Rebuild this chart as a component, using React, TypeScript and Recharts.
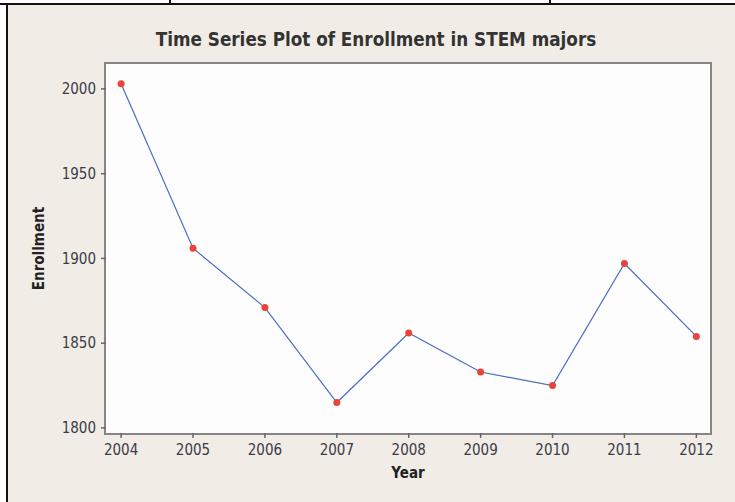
import React from 'react';
import { LineChart, Line, XAxis, YAxis } from 'recharts';

const years = [2004, 2005, 2006, 2007, 2008, 2009, 2010, 2011, 2012];
const enrollment = [2003, 1906, 1871, 1815, 1856, 1833, 1825, 1897, 1854];
const yTicks = [1800, 1850, 1900, 1950, 2000];

const data = years.map((y, i) => ({ year: y, value: enrollment[i] }));

const W = 735;
const H = 502;
// plot area in page pixels
const PL = 106, PR = 710, PT = 64, PB = 433;

const font = '"DejaVu Sans Condensed", "DejaVu Sans", sans-serif';
const tickStyle = { fontSize: 15, fill: '#3b3b48', fontFamily: font };

const YLabel = ({ viewBox }: any) => {
  const cx = 39;
  const cy = viewBox.y + viewBox.height / 2;
  return (
    <text x={cx} y={cy} transform={`rotate(-90, ${cx}, ${cy})`} textAnchor="middle" dominantBaseline="central"
      fontFamily={font} fontWeight="bold" fontSize={15} fill="#222">Enrollment</text>
  );
};

const XLabel = ({ viewBox }: any) => {
  const cx = viewBox.x + viewBox.width / 2;
  return (
    <text x={cx} y={478} textAnchor="middle" fontFamily={font} fontWeight="bold" fontSize={15} fill="#222">Year</text>
  );
};

export default function App() {
  return (
    <div style={{ position: 'absolute', left: 0, top: 0, width: W, height: H, background: '#fff', overflow: 'hidden' }}>
      {/* beige frame */}
      <div style={{ position: 'absolute', left: 8, top: 5, right: 0, bottom: 0, background: '#f1ede6' }} />
      <div style={{ position: 'absolute', left: 0, top: 3, width: W, height: 2, background: '#111' }} />
      <div style={{ position: 'absolute', left: 6, top: 3, width: 2, height: H, background: '#111' }} />
      <div style={{ position: 'absolute', left: 169, top: 0, width: 2, height: 4, background: '#111' }} />
      <div style={{ position: 'absolute', left: 549, top: 0, width: 2, height: 4, background: '#111' }} />
      {/* title */}
      <div style={{ position: 'absolute', left: 0, top: 29, width: 752, textAlign: 'center', fontFamily: font, fontWeight: 'bold', fontSize: 18.7, color: '#333' }}>
        Time Series Plot of Enrollment in STEM majors
      </div>
      {/* plot frame */}
      <div style={{ position: 'absolute', left: PL - 2, top: PT - 2, width: PR - PL + 4, height: PB - PT + 4, boxSizing: 'border-box', border: '2px solid #858585', background: '#fdfdfd' }} />
      <div style={{ position: 'absolute', left: 0, top: 0 }}>
        <LineChart width={W} height={H} data={data} margin={{ top: PT, right: W - PR, bottom: 0, left: 0 }}>
          <XAxis dataKey="year" type="number" domain={[2004 - 0.21, 2012 + 0.19]} ticks={years} allowDataOverflow
            axisLine={false} tickSize={5} tickMargin={6} tickLine={{ stroke: '#666', strokeWidth: 1.5 }} tick={tickStyle}
            height={H - PB} label={<XLabel />} />
          <YAxis type="number" domain={[1797, 2014.7]} ticks={yTicks} allowDataOverflow
            axisLine={false} tickSize={5} tickMargin={5} tickLine={{ stroke: '#666', strokeWidth: 1.5 }} tick={tickStyle}
            width={PL} label={<YLabel />} />
          <Line type="linear" dataKey="value" stroke="#4a6cc2" strokeWidth={1.2} isAnimationActive={false}
            dot={{ r: 3.5, fill: '#e9433a', stroke: 'none' }} activeDot={false} />
        </LineChart>
      </div>
    </div>
  );
}
